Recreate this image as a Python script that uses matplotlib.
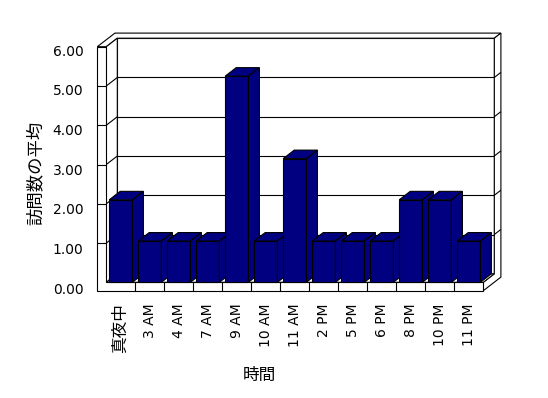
import matplotlib
matplotlib.use('Agg')
import matplotlib.pyplot as plt
from matplotlib.patches import Polygon

categories = ['真夜中', '3 AM', '4 AM', '7 AM', '9 AM', '10 AM', '11 AM',
              '2 PM', '5 PM', '6 PM', '8 PM', '10 PM', '11 PM']
values = [2.1, 1.05, 1.05, 1.05, 5.25, 1.05, 3.15, 1.05, 1.05, 1.05, 2.1, 2.1, 1.05]
y_ticks = [0, 1, 2, 3, 4, 5, 6]
y_tick_labels = ['0.00', '1.00', '2.00', '3.00', '4.00', '5.00', '6.00']
x_title = '時間'
y_title = '訪問数の平均'

plt.rcParams['font.family'] = ['DejaVu Sans', 'Noto Sans CJK JP']

W, H = 548, 398
fig = plt.figure(figsize=(W / 100, H / 100), dpi=100)
fig.patch.set_facecolor('white')


def fx(px):
    return px / W


def fy(py):
    return 1 - py / H


# front plane of the 3-D box
FL, FR, FB, FT = 106.3, 483.3, 282.3, 46.7
ax = fig.add_axes([fx(FL), fy(FB), (FR - FL) / W, (FB - FT) / H])
n = len(categories)
ymax = y_ticks[-1]
ax.set_xlim(-0.5, n - 0.5)
ax.set_ylim(0, ymax)
ax.set_facecolor('none')
for s in ax.spines.values():
    s.set_visible(False)
ax.set_yticks([])

pxx = (FR - FL) / n          # px per category
pxy = (FB - FT) / ymax       # px per unit
DX = 11.0 / pxx              # depth offset in data units
DY = 8.5 / pxy
XL = -0.5                    # inner left
XO = -0.5 - 9.0 / pxx        # outer left (wall thickness)
XR = n - 0.5
YF = -8.4 / pxy              # floor bottom
ZB = 1.6                     # outer back

NAVY = '#000080'
LW = 0.8


def P(x, y, z):
    return (x + z * DX, y + z * DY)


zc = [1]


def face(pts, fc):
    ax.add_patch(Polygon(pts, closed=True, facecolor=fc, edgecolor='black',
                         lw=LW, clip_on=False, joinstyle='miter', zorder=zc[0]))
    zc[0] += 1


def line(p, q):
    ax.plot([p[0], q[0]], [p[1], q[1]], color='black', lw=LW,
            clip_on=False, solid_capstyle='butt', zorder=zc[0])
    zc[0] += 1


# back wall
face([P(XL, 0, 1), P(XR, 0, 1), P(XR, ymax, 1), P(XL, ymax, 1)], 'white')
# top of walls (L-shape)
face([P(XO, ymax, 0), P(XL, ymax, 0), P(XL, ymax, 1), P(XR, ymax, 1),
      P(XR, ymax, ZB), P(XO, ymax, ZB)], 'white')
# right end face of back wall + floor
face([P(XR, YF, 0), P(XR, YF, ZB), P(XR, ymax, ZB), P(XR, ymax, 1),
      P(XR, 0, 1), P(XR, 0, 0)], 'white')
# left wall inner face
face([P(XL, 0, 0), P(XL, 0, 1), P(XL, ymax, 1), P(XL, ymax, 0)], 'white')
# floor top
face([P(XL, 0, 0), P(XR, 0, 0), P(XR, 0, 1), P(XL, 0, 1)], 'white')
# front face of left wall + floor
face([P(XO, YF, 0), P(XR, YF, 0), P(XR, 0, 0), P(XL, 0, 0),
      P(XL, ymax, 0), P(XO, ymax, 0)], 'white')

# gridlines
for v in y_ticks[1:-1]:
    line(P(XL, v, 1), P(XR, v, 1))
    line(P(XL, v, 1), P(XL, v, 0))
    line(P(XL, v, 0), P(XO, v, 0))
    line(P(XR, v, 1), P(XR, v, ZB))

# floor dividers
for i in range(n - 1):
    line(P(i + 0.5, YF, 0), P(i + 0.5, 0, 0))

# bars
hw = 0.4
for i, v in enumerate(values):
    x0, x1 = i - hw, i + hw
    face([P(x0, 0, 0), P(x1, 0, 0), P(x1, v, 0), P(x0, v, 0)], NAVY)
    face([P(x0, v, 0), P(x1, v, 0), P(x1, v, 1), P(x0, v, 1)], NAVY)
    face([P(x1, 0, 0), P(x1, 0, 1), P(x1, v, 1), P(x1, v, 0)], NAVY)

# category labels
ax.set_xticks(range(n))
ax.set_xticklabels(categories, rotation=90, fontsize=10)
for t in ax.get_xticklabels():
    if t.get_text() == '真夜中':
        t.set_fontfamily(['Noto Sans CJK JP'])
        t.set_fontsize(12)
ax.tick_params(axis='x', length=0, pad=15)

# value axis labels
LB, LT = 288.5, 50.0
lax = fig.add_axes([fx(97.3), fy(LB), 0.001, (LB - LT) / H])
lax.set_ylim(0, ymax)
lax.set_yticks(y_ticks)
lax.set_yticklabels(y_tick_labels, fontsize=10)
lax.set_xticks([])
lax.tick_params(axis='y', length=0, pad=10)
for s in lax.spines.values():
    s.set_visible(False)
lax.patch.set_visible(False)

fig.text(fx(36), fy(173), y_title, rotation=90, ha='center', va='center',
         fontsize=12.5, family=['Noto Sans CJK JP'])
fig.text(fx(259), fy(375), x_title, ha='center', va='center',
         fontsize=12, family=['Noto Sans CJK JP'])

fig.savefig('out.png', dpi=100)
